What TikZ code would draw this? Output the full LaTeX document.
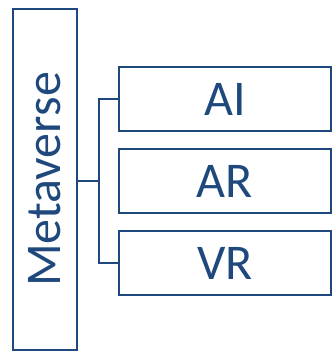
\documentclass[tikz,border=0pt]{standalone}
\usepackage{fontspec}
\setmainfont{Carlito}
\usetikzlibrary{positioning}
\definecolor{mvblue}{RGB}{31,73,125}
\tikzset{
  mbox/.style={draw=mvblue,line width=2.2pt,minimum width=212pt,minimum height=64pt,inner sep=0pt,outer sep=0pt,text=mvblue,font=\fontsize{50}{50}\selectfont},
  rootbox/.style={mbox,rotate=90,minimum width=341pt,minimum height=64pt},
  conn/.style={draw=mvblue,line width=2.2pt},
}
\begin{document}
\begin{tikzpicture}
 \useasboundingbox (0,0) rectangle (332pt,-352pt);
 \node[rootbox] (meta) at (45pt,-179.5pt) {Metaverse};
 \node[mbox] (ai) at (225pt,-99pt) {AI};
 \node[mbox,below=18pt of ai] (ar) {AR};
 \node[mbox,below=18pt of ar] (vr) {VR};
 \draw[conn] (meta.south |- ar.west) -- ++(22pt,0);
 \draw[conn] (ai.west) -- ++(-20pt,0) |- (vr.west);
\end{tikzpicture}
\end{document}
